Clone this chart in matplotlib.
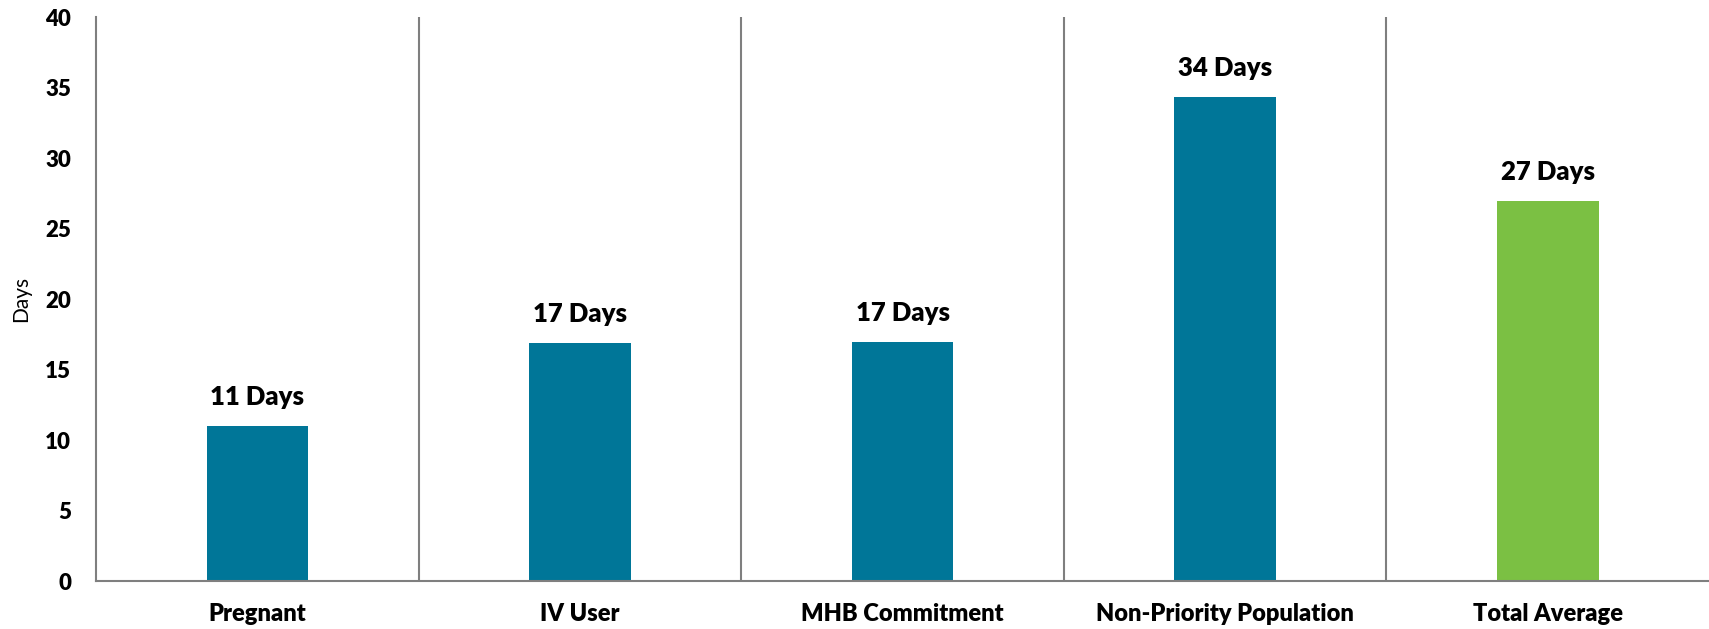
import matplotlib
matplotlib.use("Agg")
import matplotlib.pyplot as plt

plt.rcParams["font.family"] = ["Lato", "DejaVu Sans"]

categories = ["Pregnant", "IV User", "MHB Commitment", "Non-Priority Population", "Total Average"]
days = [11.0, 16.9, 16.95, 34.35, 27.0]
labels = ["11 Days", "17 Days", "17 Days", "34 Days", "27 Days"]
colors = ["#007698", "#007698", "#007698", "#007698", "#7BC043"]
yticks = [0, 5, 10, 15, 20, 25, 30, 35, 40]

fig = plt.figure(figsize=(17.09, 6.29), dpi=100)
ax = fig.add_axes([0.0562, 0.0763, 0.9438, 0.896])
x = range(len(categories))
ax.bar(x, days, width=0.315, color=colors, zorder=2)
for i, (v, t) in enumerate(zip(days, labels)):
    ax.text(i, v + 1.2, t, ha="center", va="bottom", fontsize=18.5, fontweight="heavy")

for b in [0.5, 1.5, 2.5, 3.5]:
    ax.axvline(b, color="#7f7f7f", lw=1.5, zorder=1)

ax.set_xlim(-0.5, 4.5)
ax.set_ylim(0, 40)
ax.set_yticks(yticks)
ax.set_yticklabels([str(t) for t in yticks], fontsize=16, fontweight="heavy")
ax.set_xticks(list(x))
ax.set_xticklabels(categories, fontsize=17, fontweight="heavy")
ax.tick_params(axis="y", length=0, pad=18)
ax.tick_params(axis="x", length=0, pad=16)
ax.set_ylabel("Days", fontsize=15, labelpad=10)
for s in ["top", "right"]:
    ax.spines[s].set_visible(False)
for s in ["left", "bottom"]:
    ax.spines[s].set_color("#7f7f7f")
    ax.spines[s].set_linewidth(1.5)

fig.savefig("out.png", dpi=100)
